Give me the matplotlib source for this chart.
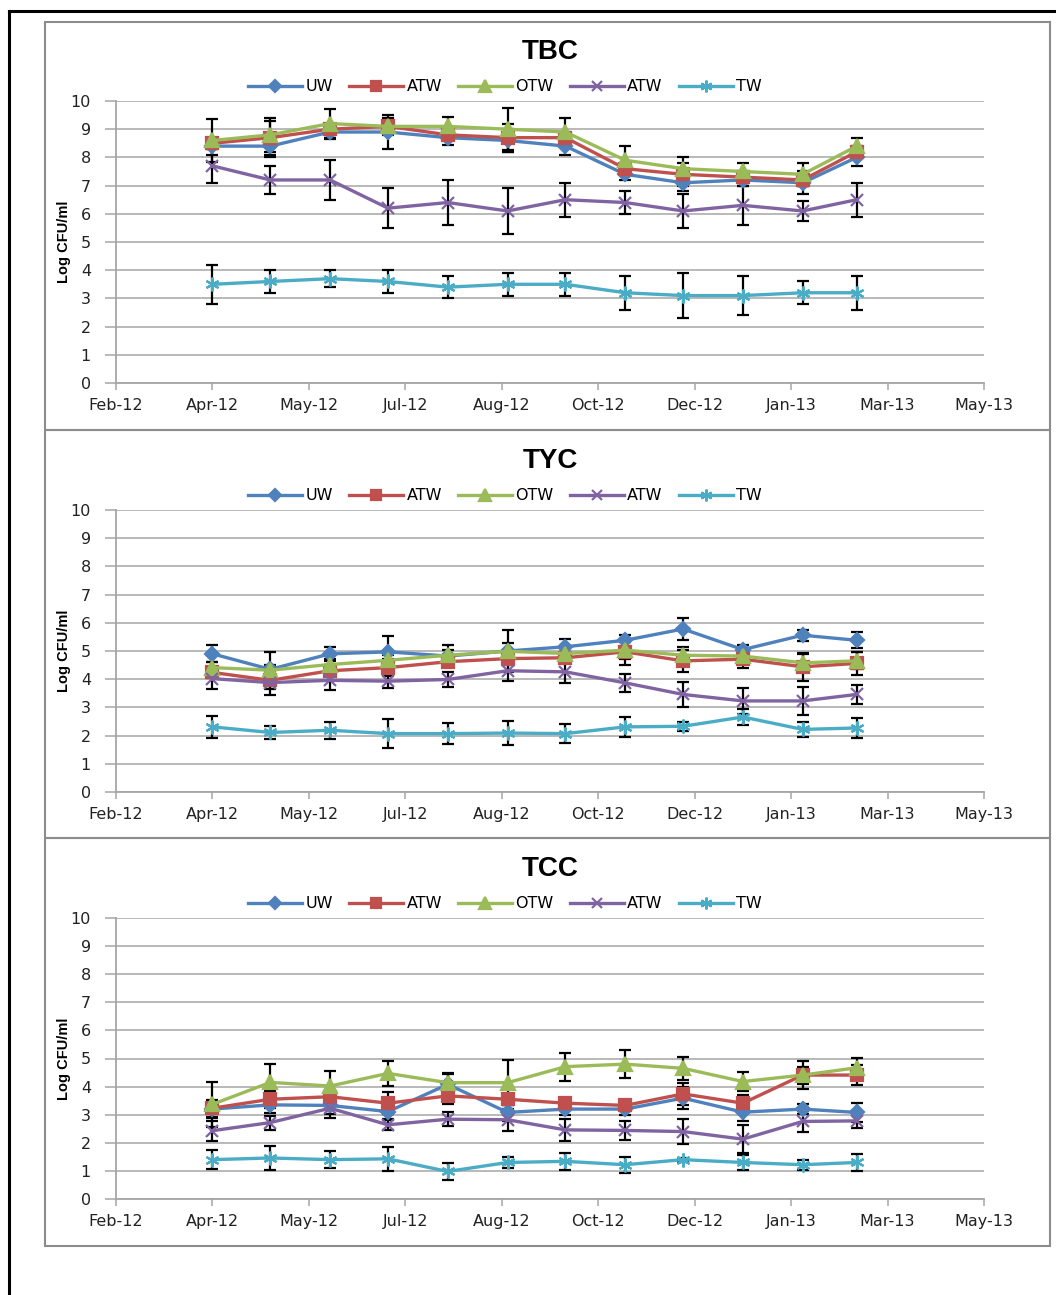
import datetime as dt
import matplotlib
matplotlib.use('Agg')
import matplotlib.pyplot as plt
import matplotlib.dates as mdates
from matplotlib.patches import Rectangle
from matplotlib.lines import Line2D

# monthly sampling, Apr 2012 - Mar 2013
sample_dates = ['2012-04-01', '2012-05-01', '2012-06-01', '2012-07-01', '2012-08-01', '2012-09-01',
                '2012-10-01', '2012-11-01', '2012-12-01', '2013-01-01', '2013-02-01', '2013-03-01']
series_names = ['UW', 'ATW', 'OTW', 'ATW', 'TW']

# ---- TBC ----
tbc_uw = [8.4, 8.4, 8.9, 8.9, 8.7, 8.6, 8.4, 7.4, 7.1, 7.2, 7.1, 8.0]
tbc_atw = [8.5, 8.7, 9.0, 9.1, 8.8, 8.7, 8.7, 7.6, 7.4, 7.3, 7.2, 8.2]
tbc_otw = [8.6, 8.8, 9.2, 9.1, 9.1, 9.0, 8.9, 7.9, 7.6, 7.5, 7.4, 8.4]
tbc_atw2 = [7.7, 7.2, 7.2, 6.2, 6.4, 6.1, 6.5, 6.4, 6.1, 6.3, 6.1, 6.5]
tbc_tw = [3.5, 3.6, 3.7, 3.6, 3.4, 3.5, 3.5, 3.2, 3.1, 3.1, 3.2, 3.2]
tbc_uw_err = [0.3, 0.4, 0.25, 0.6, 0.25, 0.4, 0.3, 0.2, 0.3, 0.2, 0.4, 0.3]
tbc_atw_err = [0.2, 0.6, 0.2, 0.2, 0.2, 0.5, 0.2, 0.2, 0.4, 0.2, 0.2, 0.2]
tbc_otw_err = [0.75, 0.6, 0.5, 0.3, 0.35, 0.75, 0.5, 0.5, 0.4, 0.3, 0.4, 0.3]
tbc_atw2_err = [0.6, 0.5, 0.7, 0.7, 0.8, 0.8, 0.6, 0.4, 0.6, 0.7, 0.35, 0.6]
tbc_tw_err = [0.7, 0.4, 0.3, 0.4, 0.4, 0.4, 0.4, 0.6, 0.8, 0.7, 0.4, 0.6]

# ---- TYC ----
tyc_uw = [4.9, 4.35, 4.9, 4.97, 4.82, 5.0, 5.15, 5.38, 5.78, 5.05, 5.56, 5.38]
tyc_atw = [4.24, 3.96, 4.3, 4.41, 4.62, 4.73, 4.76, 4.97, 4.65, 4.71, 4.44, 4.56]
tyc_otw = [4.41, 4.32, 4.52, 4.67, 4.85, 4.99, 4.91, 5.03, 4.85, 4.82, 4.58, 4.65]
tyc_atw2 = [4.02, 3.88, 3.96, 3.93, 3.99, 4.3, 4.26, 3.87, 3.46, 3.23, 3.23, 3.46]
tyc_tw = [2.31, 2.11, 2.19, 2.07, 2.07, 2.09, 2.07, 2.31, 2.33, 2.66, 2.22, 2.27]
tyc_uw_err = [0.3, 0.6, 0.25, 0.55, 0.2, 0.75, 0.27, 0.2, 0.4, 0.15, 0.2, 0.28]
tyc_atw_err = [0.2, 0.3, 0.2, 0.3, 0.2, 0.2, 0.2, 0.45, 0.4, 0.3, 0.5, 0.42]
tyc_otw_err = [0.2, 0.2, 0.2, 0.2, 0.35, 0.3, 0.2, 0.3, 0.3, 0.2, 0.3, 0.3]
tyc_atw2_err = [0.35, 0.45, 0.33, 0.25, 0.26, 0.36, 0.38, 0.33, 0.43, 0.45, 0.5, 0.35]
tyc_tw_err = [0.4, 0.22, 0.3, 0.52, 0.36, 0.42, 0.33, 0.35, 0.15, 0.3, 0.28, 0.35]

# ---- TCC ----
tcc_uw = [3.2, 3.35, 3.33, 3.11, 4.08, 3.08, 3.2, 3.2, 3.59, 3.09, 3.2, 3.08]
tcc_atw = [3.23, 3.55, 3.64, 3.41, 3.67, 3.55, 3.41, 3.33, 3.74, 3.41, 4.41, 4.41]
tcc_otw = [3.37, 4.15, 4.02, 4.47, 4.14, 4.14, 4.71, 4.8, 4.65, 4.18, 4.41, 4.67]
tcc_atw2 = [2.43, 2.72, 3.23, 2.64, 2.84, 2.82, 2.46, 2.44, 2.4, 2.13, 2.76, 2.78]
tcc_tw = [1.4, 1.46, 1.4, 1.43, 0.98, 1.3, 1.34, 1.22, 1.4, 1.3, 1.22, 1.3]
tcc_uw_err = [0.3, 0.3, 0.3, 0.3, 0.4, 0.3, 0.2, 0.2, 0.38, 0.3, 0.17, 0.33]
tcc_atw_err = [0.3, 0.3, 0.2, 0.4, 0.3, 0.2, 0.2, 0.2, 0.4, 0.3, 0.5, 0.35]
tcc_otw_err = [0.8, 0.65, 0.55, 0.45, 0.3, 0.8, 0.5, 0.5, 0.4, 0.35, 0.3, 0.35]
tcc_atw2_err = [0.35, 0.25, 0.35, 0.2, 0.25, 0.4, 0.38, 0.35, 0.45, 0.5, 0.37, 0.27]
tcc_tw_err = [0.35, 0.44, 0.3, 0.42, 0.3, 0.2, 0.3, 0.28, 0.07, 0.28, 0.18, 0.3]

colors = ['#4F81BD', '#C0504D', '#9BBB59', '#8064A2', '#4BACC6']
markers = ['D', 's', '^', 'x', (6, 2, 0)]
msizes = [7, 8.5, 9.5, 9, 10]

dates = [dt.datetime.strptime(d, '%Y-%m-%d') for d in sample_dates]
x_start = dt.datetime(2012, 2, 11)
x_ticks = [x_start + dt.timedelta(days=50 * i) for i in range(10)]

panels = [
    ('TBC', [tbc_uw, tbc_atw, tbc_otw, tbc_atw2, tbc_tw],
     [tbc_uw_err, tbc_atw_err, tbc_otw_err, tbc_atw2_err, tbc_tw_err]),
    ('TYC', [tyc_uw, tyc_atw, tyc_otw, tyc_atw2, tyc_tw],
     [tyc_uw_err, tyc_atw_err, tyc_otw_err, tyc_atw2_err, tyc_tw_err]),
    ('TCC', [tcc_uw, tcc_atw, tcc_otw, tcc_atw2, tcc_tw],
     [tcc_uw_err, tcc_atw_err, tcc_otw_err, tcc_atw2_err, tcc_tw_err]),
]

W, H = 1056, 1295
fig = plt.figure(figsize=(W / 100, H / 100), dpi=100)

# outer frame (black, top + left) and gray boxes round each chart
fig.add_artist(Line2D([9 / W, 1.0], [1 - 11 / H, 1 - 11 / H], color='black', lw=2.2))
fig.add_artist(Line2D([9 / W, 9 / W], [0, 1 - 11 / H], color='black', lw=2.2))
box_tops = [22, 430, 838]
for top in box_tops:
    fig.add_artist(Rectangle((45 / W, 1 - (top + 408) / H), (1050 - 45) / W, 408 / H,
                             fill=False, edgecolor='#8c8c8c', lw=1.5))

axes_zero_px = [383, 792, 1199]
axes_top_px = [101, 510, 918]
gray = '#a6a6a6'

for (name, vals, errs), y0, y1 in zip(panels, axes_zero_px, axes_top_px):
    ax = fig.add_axes([116 / W, 1 - y0 / H, (984 - 116) / W, (y0 - y1) / H])
    for i in range(5):
        ax.errorbar(dates, vals[i], yerr=errs[i], fmt='none', ecolor='black',
                    elinewidth=1.6, capsize=4, capthick=1.6, zorder=2.5)
        ax.plot(dates, vals[i], color=colors[i], lw=2.4, marker=markers[i], ms=msizes[i],
                mfc=colors[i], mec=colors[i], mew=1.6, label=series_names[i], zorder=3)

    ax.set_ylim(0, 10)
    ax.set_yticks(range(0, 11))
    ax.set_xlim(x_ticks[0], x_ticks[-1])
    ax.set_xticks(x_ticks)
    ax.xaxis.set_major_formatter(mdates.DateFormatter('%b-%y'))
    ax.grid(axis='y', color=gray, lw=1.1)
    ax.set_axisbelow(True)
    for s in ['top', 'right']:
        ax.spines[s].set_visible(False)
    for s in ['left', 'bottom']:
        ax.spines[s].set_color(gray)
        ax.spines[s].set_linewidth(1.3)
    ax.tick_params(axis='y', direction='out', length=8, width=1.1, color=gray, pad=10,
                   labelsize=11.5, labelcolor='#222222')
    ax.tick_params(axis='x', direction='out', length=5, width=1.1, color=gray, pad=6,
                   labelsize=11.5, labelcolor='#222222')

    ax.text(0.5, 1.175, name, transform=ax.transAxes, ha='center', va='center',
            fontsize=20, fontweight='bold', family='Liberation Sans')
    ax.text(-0.06, 0.5, 'Log CFU/ml', transform=ax.transAxes, rotation=90, ha='center',
            va='center', fontsize=10.5, fontweight='bold', family='Liberation Sans')
    ax.legend(loc='center', bbox_to_anchor=(0.448, 1.05), ncol=5, frameon=False,
              fontsize=11.5, handlelength=3.4, handletextpad=0.2, columnspacing=1.0,
              borderaxespad=0, borderpad=0, markerscale=0.85)

fig.savefig('out.png', dpi=100)
